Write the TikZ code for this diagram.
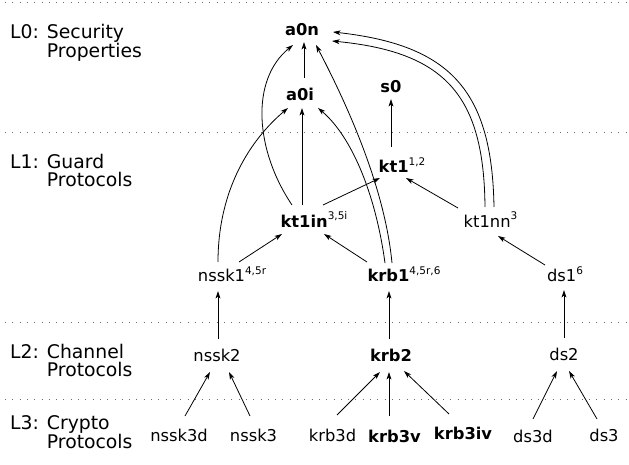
\documentclass[tikz,border=0pt]{standalone}
\usepackage{fontspec}
\setmainfont{DejaVu Sans}
\usetikzlibrary{arrows.meta,calc}
\newcommand\supr[1]{\raisebox{7pt}{\fontsize{10.5}{12}\selectfont #1}}
\tikzset{
  nd/.style={inner sep=0pt, anchor=base, font=\fontsize{16.3}{19}\selectfont},
  bnd/.style={nd, font=\fontsize{16.3}{19}\selectfont\bfseries},
  lvl/.style={inner sep=0pt, anchor=base west, align=left, font=\fontsize{18.8}{18.6}\selectfont},
  sep/.style={gray!85!black, line width=0.8pt, dash pattern=on 0.8pt off 6.5pt},
  ar/.style={line width=0.8pt, -{Stealth[length=7.5pt,width=4.8pt,inset=2pt]}}
}
\begin{document}
\begin{tikzpicture}[x=1pt,y=-1pt]
\useasboundingbox (0,0) rectangle (629,465);
% level separators
\draw[sep] (5,2) -- (629,2);
\draw[sep] (5,132) -- (629,132);
\draw[sep] (5,322) -- (629,322);
\draw[sep] (5,399) -- (629,399);
% level labels (anchored at the baseline of their last line)
\node[lvl] (l0) at (10,57.4) {L0: Security\\\phantom{L0: }Properties};
\node[lvl] (l1) at (10,186.7) {L1: Guard\\\phantom{L1: }Protocols};
\node[lvl] (l2) at (10,376.7) {L2: Channel\\\phantom{L2: }Protocols};
\node[lvl] (l3) at (10,448.4) {L3: Crypto\\\phantom{L3: }Protocols};
% nodes
\node[bnd] (a0n) at (302,36) {a0n};
\node[bnd] (a0i) at (300,101) {a0i};
\node[bnd] (s0) at (391,93) {s0};
\node[nd] (kt1) at (402,173) {\textbf{kt1}\supr{1,2}};
\node[nd] (kt1in) at (314,227) {\textbf{kt1in}\supr{3,5i}};
\node[nd] (kt1nn) at (490.5,227) {kt1nn\supr{3}};
\node[nd] (nssk1) at (232,281) {nssk1\supr{4,5r}};
\node[nd] (krb1) at (404,281) {\textbf{krb1}\supr{4,5r,6}};
\node[nd] (ds1) at (565,281) {ds1\supr{6}};
\node[nd] (nssk2) at (217,361) {nssk2};
\node[bnd] (krb2) at (391,361) {krb2};
\node[nd] (ds2) at (564,360) {ds2};
\node[nd] (nssk3d) at (179,441) {nssk3d};
\node[nd] (nssk3) at (253.5,441) {nssk3};
\node[nd] (krb3d) at (332.5,441) {krb3d};
\node[bnd] (krb3v) at (394.5,442) {krb3v};
\node[bnd] (krb3iv) at (463,439) {krb3iv};
\node[nd] (ds3d) at (533,442) {ds3d};
\node[nd] (ds3) at (604,441) {ds3};
% connectors
\draw[ar] ($(a0i.base)+(4,-23)$) -- ($(a0n.base)+(2,6)$);
\draw[ar] ($(nssk1.base)+(-14,-19)$) .. controls +(0,-72) and +(-38,32) .. ($(a0i.base)+(-12,7)$);
\draw[ar] ($(kt1in.base)+(-22,-22)$) .. controls +(-37,-55) and +(-43,35) .. ($(a0n.base)+(-9,9)$);
\draw[ar] ($(kt1in.base)+(-12,-22)$) -- ($(a0i.base)+(2,7)$);
\draw[ar] ($(krb1.base)+(-19,-18)$) .. controls +(-10,-73) and +(32,27) .. ($(a0i.base)+(18,7)$);
\draw[ar] ($(krb1.base)+(-12,-18)$) .. controls +(-7,-73) and +(34,65) .. ($(a0n.base)+(14,9)$);
\draw[ar] ($(kt1nn.base)+(3.5,-20)$) .. controls +(-2,-117) and +(117,13) .. ($(a0n.base)+(31,-4)$);
\draw[ar] ($(kt1nn.base)+(-5.5,-20)$) .. controls +(-1,-112) and +(113,11) .. ($(a0n.base)+(30,5)$);
\draw[ar] ($(kt1in.base)+(9,-22)$) -- ($(kt1.base)+(-22,5)$);
\draw[ar] ($(kt1nn.base)+(-32.5,-19)$) -- ($(kt1.base)+(4,5)$);
\draw[ar] ($(kt1.base)+(-11,-26)$) -- ($(s0.base)+(0,6)$);
\draw[ar] ($(nssk1.base)+(7,-19)$) -- ($(kt1in.base)+(-32,7)$);
\draw[ar] ($(krb1.base)+(-37,-19)$) -- ($(kt1in.base)+(10,7)$);
\draw[ar] ($(ds1.base)+(-20,-16)$) -- ($(kt1nn.base)+(7.5,9)$);
\draw[ar] ($(nssk2.base)+(1,-22)$) -- ($(nssk1.base)+(-14,10)$);
\draw[ar] ($(krb2.base)+(-2,-22)$) -- ($(krb1.base)+(-15,10)$);
\draw[ar] ($(ds2.base)+(0,-22)$) -- ($(ds1.base)+(-1,9)$);
\draw[ar] ($(nssk3d.base)+(6,-25)$) -- ($(nssk2.base)+(-7,11)$);
\draw[ar] ($(nssk3.base)+(-3.5,-25)$) -- ($(nssk2.base)+(12,11)$);
\draw[ar] ($(krb3d.base)+(4.5,-26)$) -- ($(krb2.base)+(-11,11)$);
\draw[ar] ($(krb3v.base)+(-5.5,-26)$) -- ($(krb2.base)+(-2,11)$);
\draw[ar] ($(krb3iv.base)+(-14,-25)$) -- ($(krb2.base)+(13,10)$);
\draw[ar] ($(ds3d.base)+(0,-23)$) -- ($(ds2.base)+(-7,11)$);
\draw[ar] ($(ds3.base)+(-7,-22)$) -- ($(ds2.base)+(5,11)$);
\end{tikzpicture}
\end{document}
